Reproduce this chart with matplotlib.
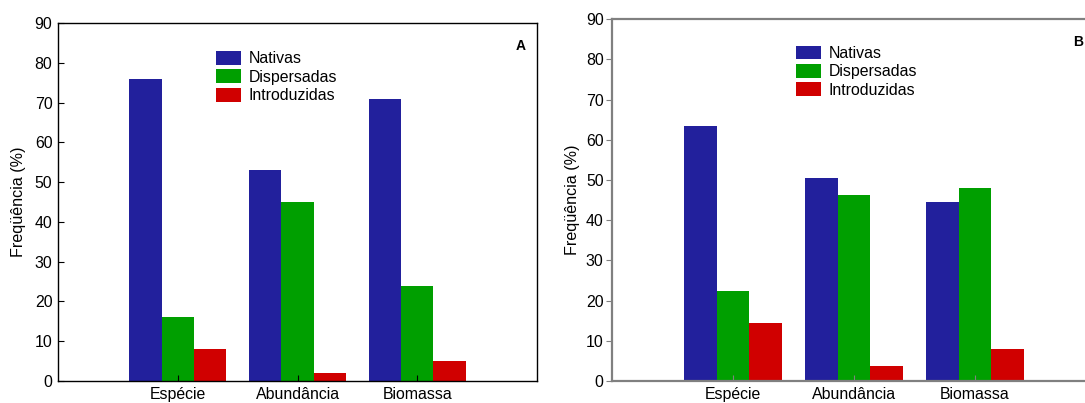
import numpy as np
import matplotlib.pyplot as plt

plt.rcParams['font.family'] = ['Liberation Sans', 'DejaVu Sans']

categorias = ['Espécie', 'Abundância', 'Biomassa']
grupos = ['Nativas', 'Dispersadas', 'Introduzidas']
cores = ['#22209c', '#009f00', '#d00000']

# painel A
nativas_a = [76, 53, 71]
dispersadas_a = [16, 45, 24]
introduzidas_a = [8, 2, 5]

# painel B
nativas_b = [63.5, 50.5, 44.4]
dispersadas_b = [22.5, 46.2, 48.0]
introduzidas_b = [14.3, 3.7, 8.0]

fig = plt.figure(figsize=(10.85, 4.03), dpi=100)
ax_a = fig.add_axes([0.0535, 0.0546, 0.4415, 0.888])
ax_b = fig.add_axes([0.564, 0.0546, 0.446, 0.898])

x = np.arange(len(categorias))
w = 0.27


def painel(ax, series, letra, cor_eixo, lw, ydir, pad, leg_xy, letra_xy):
    for i, (vals, nome) in enumerate(zip(series, grupos)):
        ax.bar(x + (i - 1) * w, vals, w, color=cores[i], label=nome,
               edgecolor='none')
    ax.set_xlim(-1, 3)
    ax.set_ylim(0, 90)
    ax.set_yticks(range(0, 91, 10))
    ax.set_xticks(x)
    ax.set_xticklabels(categorias)
    ax.tick_params(axis='x', direction='in', length=4, labelsize=11.4, pad=4,
                   color=cor_eixo)
    ax.tick_params(axis='y', direction=ydir, length=4, labelsize=11.4, pad=pad,
                   color=cor_eixo)
    for s in ax.spines.values():
        s.set_color(cor_eixo)
        s.set_linewidth(lw)
    ax.set_ylabel('Freqüência (%)', fontsize=11.6)
    ax.yaxis.set_label_coords(-0.067, 0.5)
    ax.legend(loc='upper left', bbox_to_anchor=leg_xy, frameon=False,
              fontsize=11.4, borderpad=0, borderaxespad=0, handlelength=1.6,
              handleheight=0.95, labelspacing=0.2, handletextpad=0.45)
    ax.text(letra_xy[0], letra_xy[1], letra, transform=ax.transAxes,
            fontsize=10, fontweight='bold', ha='center', va='center')


painel(ax_a, [nativas_a, dispersadas_a, introduzidas_a], 'A', 'black', 1.0,
       'in', 4, (0.33, 0.922), (0.965, 0.936))
painel(ax_b, [nativas_b, dispersadas_b, introduzidas_b], 'B', '#808080', 1.6,
       'out', 2, (0.38, 0.927), (0.963, 0.936))

fig.savefig('out.png', dpi=100)
